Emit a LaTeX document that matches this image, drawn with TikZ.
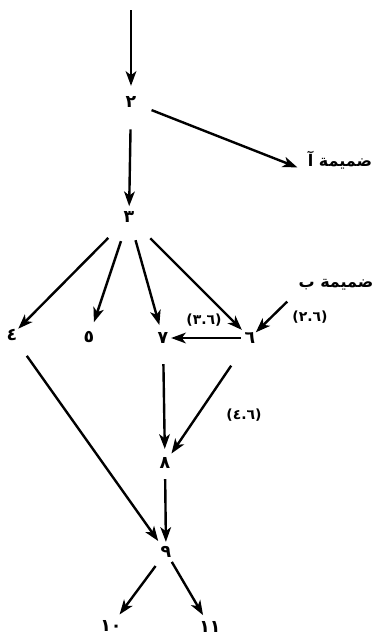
\documentclass[tikz,border=0pt]{standalone}
\usepackage{fontspec}
\newfontfamily\arabicfont[Script=Arabic]{DejaVu Sans}
\TeXXeTstate=1
\usetikzlibrary{arrows.meta}
\tikzset{every picture/.style={line width=0.75pt}}
\tikzset{
  num/.style={circle, inner sep=0pt, minimum size=10pt, font=\arabicfont\bfseries\fontsize{13}{15}\selectfont},
  lbl/.style={inner sep=0.75pt, font=\arabicfont\bfseries\fontsize{10.5}{12}\selectfont},
  app/.style={inner sep=1pt, font=\arabicfont\bfseries\fontsize{12}{14}\selectfont},
  arr/.style={-{Stealth[length=11pt,width=8pt,inset=3pt]}, line width=1.8pt, shorten <=13pt, shorten >=2.5pt},
}

\begin{document}
\begin{tikzpicture}[x=0.75pt,y=0.75pt,yscale=-1,xscale=1]
\useasboundingbox (0,0) rectangle (374,636);

% Text Node
\coordinate (top) at (131,10);
\node [num] (n2) at (131,102) {٢};
\node [num] (n3) at (129,217) {٣};
\node [num] (n4) at (12,335) {٤};
\node [num] (n5) at (89,337) {٥};
\node [num] (n7) at (163,338) {٧};
\node [num] (n6) at (250,338) {٦};
\node [num] (n8) at (165,463) {٨};
\node [num] (n9) at (166,552) {٩};
\node [num] (n10) at (111,626) {١٠};
\node [num] (n11) at (210,627) {١١};
% Text Node
\node [app] (appA) at (340,160) {\beginR ضميمة آ\endR};
\node [app] (appB) at (336,285) {\beginR ضميمة ب\endR};
% Text Node
\node [lbl] (l62) at (310,317) {(٢.٦)};
\node [lbl] (l63) at (204,320) {(٣.٦)};
\node [lbl] (l64) at (244,415) {(٤.٦)};

%Straight Lines
\draw [arr, shorten <=0pt, shorten >=6pt] (top) -- (n2);
\draw [arr, shorten <=14.5pt, shorten >=2pt] (n2) -- (n3);
\draw [arr, shorten <=10.5pt, shorten >=7pt] (n2) -- (appA.south west);
%Straight Lines
\draw [arr, shorten <=16pt, shorten >=0.5pt] (n3) -- (n4);
\draw [arr, shorten <=13pt, shorten >=5.5pt] (n3) -- (n5);
\draw [arr, shorten <=12pt, shorten >=4pt] (n3) -- (n7);
\draw [arr, shorten <=16.5pt, shorten >=2.5pt] (n3) -- (n6);
%Straight Lines
\draw [arr, shorten <=10pt, shorten >=0pt] (appB.south west) -- (n6);
\draw [arr, shorten <=1pt, shorten >=0pt] (n6) -- (n7);
\draw [arr, shorten <=13.5pt, shorten >=4.5pt] (n7) -- (n8);
\draw [arr, shorten <=19pt, shorten >=2.5pt] (n6) -- (n8);
%Straight Lines
\draw [arr, shorten <=6pt, shorten >=1.5pt] (n8) -- (n9);
\draw [arr, shorten <=13pt, shorten >=4pt] (n4) -- (n9);
\draw [arr, shorten <=7pt, shorten >=1.5pt] (n9) -- (n10);
\draw [arr, shorten <=2.5pt, shorten >=1pt] (n9) -- (n11);

\end{tikzpicture}
\end{document}
